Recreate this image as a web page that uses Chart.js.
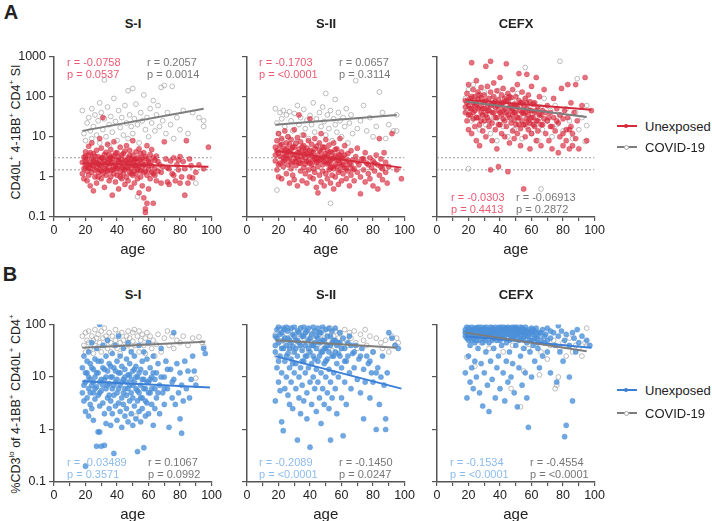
<!DOCTYPE html>
<html>
<head>
<meta charset="utf-8">
<script src="https://cdn.jsdelivr.net/npm/chart.js@4.4.0/dist/chart.umd.min.js"></script>
<style>
  body { margin: 0; width: 712px; height: 521px; background: #fff; position: relative; overflow: hidden;
         font-family: "Liberation Sans", Arial, sans-serif; color: #222; }
  .box { position: absolute; }
  .t { position: absolute; white-space: nowrap; transform: translateY(-50%); font-size: 11px; }
  .c { position: absolute; white-space: nowrap; transform: translate(-50%, -50%); }
  .v { position: absolute; white-space: nowrap; transform: translate(-50%, -50%) rotate(-90deg); font-size: 12.5px; }
  .v sup { font-size: 8px; }
  .leg { position: absolute; height: 2px; width: 20px; }
  .dot { position: absolute; width: 4px; height: 4px; border-radius: 50%; }
</style>
</head>
<body>

<div class="c" style="left:11px;top:12px;font-size:20px;font-weight:bold">A</div>
<div class="c" style="left:10px;top:274px;font-size:20px;font-weight:bold">B</div>

<div class="v" style="left:15px;top:132px">CD40L<sup>+</sup> 4-1BB<sup>+</sup> CD4<sup>+</sup> SI</div>
<div class="v" style="left:15px;top:404px">%CD3<sup>lo</sup> of 4-1BB<sup>+</sup> CD40L<sup>+</sup> CD4<sup>+</sup></div>

<script>
// ---- data ----
const xTicks = [0, 10, 20, 30, 40, 50, 60, 70, 80, 90, 100];
const aYTicks = [0.1, 1, 10, 100, 1000];
const bYTicks = [0.1, 1, 10, 100];
const aThresholds = [3, 1.5];
const panelTitles = ["S-I", "S-II", "CEFX"];
const seriesNames = ["Unexposed", "COVID-19"];

// A: S-I
const a1Unexposed = [[18,2.3],[18,1.2],[19,3.1],[19,0.9],[20,1.8],[20,2.6],[20,4.2],[21,1.4],[21,0.8],[21,2.0],[22,3.5],[22,1.1],[22,5.8],[23,2.2],[23,1.6],[23,0.6],[24,2.9],[24,1.3],[24,7.0],[25,1.9],[25,3.8],[25,0.45],
  [26,2.4],[26,1.0],[27,4.6],[27,1.7],[27,0.7],[28,2.1],[28,3.2],[28,1.3],[29,9.0],[29,1.5],[29,2.7],[30,0.9],[30,5.2],[30,1.9],[31,3.0],[31,1.2],[31,30],[32,2.5],[32,0.55],[32,1.6],[33,4.1],[33,2.0],[33,1.1],[34,6.5],[34,1.4],[34,2.8],[35,0.8],[35,3.6],[35,1.8],
  [36,2.2],[36,1.0],[36,4.8],[37,1.5],[37,2.9],[37,0.35],[38,3.3],[38,1.2],[38,7.5],[39,2.0],[39,0.75],[39,1.6],[40,4.0],[40,2.6],[40,1.1],[41,1.8],[41,3.1],[41,0.5],[42,2.3],[42,5.5],[42,1.3],[43,0.9],[43,2.7],[43,1.7],[44,3.8],[44,1.2],[44,2.1],[45,0.65],[45,4.4],[45,1.5],
  [46,2.5],[46,1.0],[46,6.0],[47,1.7],[47,3.0],[47,0.8],[48,2.2],[48,1.3],[48,4.6],[49,0.55],[49,2.8],[49,1.6],[50,3.5],[50,1.1],[50,2.0],[50,8.0],[51,1.4],[51,2.6],[51,0.7],[52,4.2],[52,1.9],[52,1.2],[53,3.0],[53,0.9],[53,2.3],[54,5.0],[54,1.5],[54,0.4],[55,2.7],[55,1.0],[55,3.8],
  [56,1.8],[56,0.6],[56,2.4],[57,4.0],[57,1.3],[57,0.3],[58,2.0],[58,0.16],[58,0.13],[58,3.2],[59,1.1],[59,6.0],[59,0.22],[60,2.5],[60,1.5],[60,0.5],[61,3.6],[61,0.9],[62,1.9],[62,4.8],[63,1.2],[63,0.22],[64,2.6],[64,1.6],[65,0.8],[65,3.3],
  [66,1.4],[67,2.0],[68,0.7],[68,1.3],[70,7.5],[71,2.8],[72,0.75],[72,1.7],[73,0.65],[74,2.5],[75,1.2],[76,3.0],[77,0.8],[78,2.0],[79,1.5],[80,3.2],[80,0.7],[81,1.0],[82,2.4],[83,0.35],[83,1.6],[84,8.0],[85,0.7],[86,2.8],[86,1.0],[87,1.9],[88,0.95],[90,1.3],[92,2.0],[95,1.6],[98,5.5],
  [19,1.6],[20,3.3],[21,2.7],[22,1.7],[23,4.0],[24,2.0],[25,2.6],[26,1.5],[26,3.3],[27,2.3],[28,1.0],[29,2.0],[30,3.0],[30,1.4],[31,2.2],[32,3.6],[33,1.5],[34,2.2],[35,2.7],[36,1.4],[36,3.1],[37,2.3],[38,1.8],[39,3.9],[40,1.6],[41,2.5],[42,1.0],[43,3.5],[44,1.6],[45,2.6],
  [46,1.7],[47,2.2],[48,3.4],[49,1.2],[50,2.6],[51,1.9],[52,2.8],[53,1.6],[54,2.0],[55,1.4],[56,3.0],[57,2.0],[58,1.4],[59,2.8],[60,1.9],[61,2.3],[62,1.3],[63,3.0],[64,1.1],[66,2.4],[69,1.8],[73,1.6],[76,1.1],[79,2.6]];
const a1Covid = [[18,45],[19,12],[20,8],[21,22],[22,30],[23,14],[24,50],[24,9],[25,18],[26,35],[27,11],[28,25],[29,70],[29,7],[30,40],[31,15],[32,260],[32,28],[33,10],[34,55],[35,20],[35,6],[36,32],[37,13],[38,90],[39,24],[40,8],[41,45],[42,17],[43,30],[44,11],[45,60],[46,22],[47,140],[47,9],[48,35],[49,18],[50,160],[50,12],[51,28],[52,65],[53,20],[53,0.32],[54,7],[55,40],[56,25],[57,110],[58,15],[59,30],[60,10],[61,50],[62,22],[63,80],[64,14],[65,35],[66,60],[67,18],[68,170],[69,25],[70,190],[71,12],[72,40],[74,20],[75,180],[76,9],[78,30],[80,15],[82,45],[85,12],[88,40],[90,0.7],[92,30],[95,18],[95,25]];
const a1FitUnexposed = [[18,2.2],[98,1.8]];
const a1FitCovid = [[18,14],[95,50]];
const a1Stats = ["r = -0.0758", "p = 0.0537", "r = 0.2057", "p = 0.0014"];

// A: S-II
const a2Unexposed = [[18,5.5],[18,2.5],[19,8.0],[19,1.5],[20,3.8],[20,12],[20,1.0],[21,6.0],[21,2.2],[22,4.5],[22,0.9],[22,9.0],[23,3.0],[23,1.8],[24,14],[24,5.0],[24,2.6],[25,7.0],[25,1.2],[25,3.5],[26,4.2],[26,10],[26,2.0],[27,0.7],[27,6.5],[27,3.0],[28,1.6],[28,4.8],[28,8.5],[29,2.4],[29,5.5],[29,1.1],[30,3.6],[30,15],[30,0.85],
  [31,2.8],[31,6.8],[31,1.9],[32,4.0],[32,0.6],[32,9.5],[33,2.2],[33,35],[33,5.0],[34,1.4],[34,3.2],[34,7.5],[35,2.6],[35,0.8],[35,4.4],[36,1.7],[36,6.0],[36,11],[37,3.0],[37,1.2],[37,2.1],[38,5.2],[38,0.7],[38,3.8],[39,1.5],[39,8.0],[39,2.5],[40,28],[40,4.6],[40,1.0],
  [41,3.3],[41,2.0],[41,6.5],[42,0.9],[42,4.0],[42,1.6],[43,2.8],[43,9.0],[43,1.3],[44,5.8],[44,2.3],[44,0.55],[45,0.4],[45,3.5],[45,1.8],[46,7.0],[46,2.6],[46,1.1],[47,4.2],[47,0.75],[47,12],[48,2.0],[48,3.1],[48,1.4],[49,5.5],[49,0.6],[49,2.4],[50,3.8],[50,1.2],[50,8.5],
  [51,2.1],[51,0.9],[51,4.6],[52,1.5],[52,3.0],[52,6.2],[53,2.5],[53,0.7],[53,1.7],[54,4.0],[54,1.1],[54,2.8],[55,7.0],[55,1.6],[55,0.5],[56,3.3],[56,2.0],[56,1.0],[57,5.0],[57,2.6],[58,1.3],[58,0.65],[58,3.6],[59,2.2],[59,9.0],[59,1.5],[60,4.2],[60,0.8],[60,2.0],
  [61,1.2],[61,3.0],[62,6.0],[62,1.7],[63,2.4],[63,0.9],[64,3.8],[64,1.4],[65,2.0],[65,0.6],[66,4.5],[66,1.1],[67,2.6],[68,1.6],[68,0.8],[69,3.2],[70,1.3],[70,5.2],[71,2.0],[72,0.38],[72,1.0],[73,2.8],[74,1.5],[75,4.0],[75,0.75],[76,2.2],[77,1.2],[78,3.0],[78,0.9],[79,1.7],[80,2.5],[80,0.6],
  [81,1.4],[82,3.5],[83,0.5],[83,2.0],[84,9.0],[84,1.1],[85,2.8],[86,1.6],[86,0.85],[87,4.0],[88,1.3],[88,2.3],[89,0.7],[90,1.8],[92,12],[95,1.5],[98,0.9],
  [18,3.5],[19,4.5],[20,2.0],[21,3.2],[22,6.5],[23,2.4],[24,3.6],[25,5.0],[26,2.8],[27,4.2],[28,2.2],[29,3.6],[30,5.5],[31,2.4],[32,3.0],[33,4.0],[34,2.2],[35,5.6],[36,3.6],[37,4.5],[38,2.4],[39,3.5],[40,2.2],[41,4.2],[42,2.6],[43,5.0],[44,3.0],[45,2.4],
  [46,4.6],[47,2.8],[48,5.5],[49,3.2],[50,2.4],[51,3.4],[52,2.2],[53,4.2],[54,1.8],[55,3.0],[56,4.8],[57,1.8],[58,2.6],[59,3.4],[60,2.8],[61,2.0],[62,3.5],[63,1.6],[64,2.6],[66,2.0],[67,1.5],[70,2.4],[74,2.8],[77,2.0],[81,2.2],[85,1.8]];
const a2Covid = [[18,50],[19,22],[19,0.47],[20,12],[21,40],[22,28],[22,8],[23,45],[24,18],[25,35],[26,10],[27,42],[28,25],[29,14],[30,38],[31,7],[32,60],[33,20],[34,30],[35,11],[36,48],[37,16],[38,26],[39,9],[40,34],[41,20],[42,70],[43,13],[44,28],[45,6],[46,40],[47,18],[48,55],[49,24],[50,120],[50,11],[51,35],[52,16],[53,45],[53,0.22],[54,8],[55,28],[56,85],[56,20],[57,13],[58,40],[59,25],[60,10],[61,30],[62,18],[63,50],[64,7],[65,22],[66,35],[67,12],[69,250],[70,16],[72,25],[74,60],[76,14],[78,30],[80,10],[82,18],[84,130],[86,40],[88,9],[90,20],[93,14],[95,14],[95,35]];
const a2FitUnexposed = [[18,4.5],[98,1.7]];
const a2FitCovid = [[18,20],[95,35]];
const a2Stats = ["r = -0.1703", "p = <0.0001", "r = 0.0657", "p = 0.3114"];

// A: CEFX
const a3Unexposed = [[18,80],[18,40],[19,120],[19,25],[20,60],[20,15],[20,200],[21,90],[21,35],[22,700],[22,50],[22,12],[23,150],[23,70],[23,28],[24,100],[24,18],[24,45],[25,65],[25,250],[25,8],[26,85],[26,30],[26,130],[27,55],[27,20],[27,6],[28,95],[28,40],[28,170],[29,70],[29,14],[29,35],[30,110],[30,50],[30,25],
  [31,570],[31,80],[31,10],[32,60],[32,30],[32,180],[33,90],[33,18],[33,45],[34,760],[34,1.5],[34,130],[35,65],[35,22],[35,8],[36,100],[36,40],[36,220],[37,55],[37,15],[37,75],[38,140],[38,30],[38,5],[39,1.8],[39,85],[39,45],[40,60],[40,20],[40,300],
  [41,110],[41,35],[41,12],[42,70],[42,28],[42,160],[43,50],[43,10],[43,90],[44,660],[44,40],[44,18],[45,1.35],[45,75],[45,120],[46,30],[46,55],[46,7],[47,95],[47,22],[47,45],[48,150],[48,35],[48,14],[49,65],[49,26],[49,9],[50,100],[50,40],[50,20],
  [51,55],[51,200],[51,12],[52,375],[52,30],[52,80],[53,45],[53,16],[53,6],[54,70],[54,25],[54,130],[55,0.5],[55,38],[55,60],[56,20],[56,90],[56,10],[57,360],[57,50],[57,28],[58,35],[58,15],[58,110],[59,75],[59,22],[59,5],[60,45],[60,180],[60,12],
  [61,30],[61,65],[62,18],[62,40],[63,300],[63,25],[63,8],[64,55],[64,14],[65,35],[65,100],[66,20],[66,6],[67,45],[68,28],[68,150],[69,12],[70,60],[70,25],[71,8],[72,40],[72,18],[73,5],[74,90],[74,30],[75,14],[76,50],[77,22],[77,4],[78,35],[78,10],[79,160],[80,28],[80,6],
  [81,45],[82,15],[82,8],[83,200],[83,30],[84,5],[85,18],[85,70],[86,12],[86,6],[87,40],[88,200],[88,9],[89,25],[90,5],[92,60],[94,300],[95,8],[98,45],
  [18,55],[19,70],[20,35],[21,50],[22,100],[23,40],[24,60],[25,30],[26,50],[27,110],[28,25],[29,50],[30,75],[31,35],[32,45],[33,25],[34,60],[35,40],[36,70],[37,30],[38,60],[39,20],[40,40],[41,70],[42,45],[43,25],[44,80],[45,35],
  [46,100],[47,60],[48,50],[49,40],[50,60],[51,30],[52,20],[53,70],[54,40],[55,20],[56,40],[57,70],[58,25],[59,45],[60,30],[61,20],[62,70],[63,45],[64,25],[66,35],[67,20],[69,40],[71,30],[73,18],[76,25],[80,12],[84,15]];
const a3Covid = [[18,90],[19,45],[20,1.6],[20,150],[21,60],[22,25],[23,200],[24,80],[25,30],[26,110],[27,15],[28,60],[29,35],[30,130],[31,20],[32,70],[33,45],[34,12],[35,90],[36,30],[37,55],[38,8],[39,140],[40,25],[41,65],[42,18],[43,40],[44,100],[45,10],[46,50],[47,28],[48,75],[49,15],[50,45],[51,120],[52,22],[53,60],[54,9],[55,35],[56,530],[56,80],[57,18],[58,50],[59,28],[60,12],[61,70],[62,20],[63,40],[64,8],[65,30],[66,0.5],[66,55],[67,15],[68,90],[70,25],[72,45],[73,10],[75,60],[76,20],[78,760],[78,35],[80,14],[82,50],[84,25],[86,9],[88,40],[89,280],[90,15],[92,30],[94,7.6],[95,19],[95,60]];
const a3FitUnexposed = [[18,84],[98,47]];
const a3FitCovid = [[18,76],[95,31]];
const a3Stats = ["r = -0.0303", "p = 0.4413", "r = -0.06913", "p = 0.2872"];

// B: S-I
const b1Unexposed = [[18,15],[18,5],[19,3.5],[19,25],[20,8],[20,2.2],[20,0.2],[21,12],[21,4],[22,30],[22,6],[22,1.8],[23,18],[23,9],[23,3],[24,45],[24,7],[24,2.5],[25,14],[25,5],[25,1.5],[26,22],[26,10],[26,3.8],[27,0.48],[27,6.5],[27,35],[28,0.9],[28,12],[28,4.5],[29,100],[29,0.9],[29,8],[29,2.8],[30,0.48],[30,20],[30,5.5],
  [31,15],[31,3.2],[31,40],[32,0.5],[32,9],[32,2],[33,25],[33,6],[33,1.3],[34,13],[34,4],[34,50],[35,7.5],[35,2.5],[35,18],[36,10],[36,3.5],[36,1.2],[37,28],[37,6],[37,2],[38,0.35],[38,15],[38,4.5],[39,8],[39,40],[39,2.8],[40,20],[40,5],[40,1.5],
  [41,12],[41,3.2],[41,60],[42,7],[42,2.2],[42,25],[43,16],[43,4],[43,1.1],[44,9],[44,35],[44,3],[45,6],[45,1.8],[45,14],[46,22],[46,4.5],[46,2.5],[47,11],[47,1.4],[47,45],[48,7],[48,3.5],[48,18],[49,5],[49,2],[49,30],[50,13],[50,4],[50,1.2],
  [51,25],[51,8],[51,2.8],[52,6],[52,16],[52,1.6],[53,0.38],[53,10],[53,3.5],[54,40],[54,5],[54,2.2],[55,14],[55,7],[55,1.4],[56,20],[56,4],[56,2.5],[57,0.45],[57,9],[57,30],[58,6],[58,1.8],[58,12],[59,3.2],[59,22],[60,8],[60,2],[60,45],
  [61,5],[61,15],[62,3],[62,10],[63,1.2],[63,25],[64,6],[64,2.5],[65,12],[65,4],[66,18],[67,7],[67,2],[68,35],[69,5],[70,10],[70,3],[71,20],[72,6],[73,1.1],[74,14],[75,4],[76,70],[76,9],[77,3],[78,18],[79,5],[80,1.6],[80,12],
  [81,0.85],[81,7],[82,3.5],[83,20],[84,6],[85,13],[86,4],[87,9],[88,25],[89,13],[90,7],[95,35],[96,28],
  [19,7],[20,12],[21,20],[22,10],[23,5],[24,15],[25,8],[26,6],[27,12],[28,20],[29,5],[30,9],[31,7],[32,14],[33,10],[34,7],[35,4.5],[36,16],[37,10],[38,7],[39,13],[40,9],[41,6],[42,12],[43,8],[44,5],[45,10],
  [46,8],[47,6],[48,11],[49,9],[50,7],[51,14],[52,10],[53,5.5],[54,12],[55,4],[56,9],[57,6],[58,3.5],[59,8],[60,5],[61,9],[62,6],[63,12],[64,9],[66,5],[68,10],[70,6],[72,14],[75,8]];
const b1Covid = [[18,60],[19,40],[20,70],[20,30],[21,50],[22,45],[22,75],[23,35],[24,60],[25,28],[25,50],[26,80],[26,40],[27,55],[28,35],[28,65],[29,45],[30,75],[30,30],[31,55],[32,40],[32,85],[33,60],[34,35],[34,50],[35,70],[36,45],[36,30],[37,60],[38,40],[39,80],[39,50],[40,35],[41,65],[42,45],[42,28],[43,70],[44,50],[45,38],[46,60],[47,75],[47,42],[48,55],[49,35],[50,70],[50,48],[51,80],[52,40],[52,1.8],[53,60],[54,75],[54,30],[55,50],[56,65],[57,40],[58,55],[58,28],[59,70],[60,45],[61,60],[62,35],[63,50],[64,25],[65,42],[66,65],[68,30],[70,55],[72,75],[73,40],[75,60],[76,35],[78,50],[80,45],[82,60],[85,40],[88,55],[90,9.5],[92,58],[94,45],[95,38]];
const b1FitUnexposed = [[18,8.3],[99,6.3]];
const b1FitCovid = [[18,36],[96,47]];
const b1Stats = ["r = -0.03489", "p = 0.3571", "r = 0.1067", "p = 0.0992"];

// B: S-II
const b2Unexposed = [[18,60],[18,30],[18,3.5],[19,80],[19,15],[20,45],[20,8],[20,90],[21,25],[21,5.5],[22,70],[22,12],[22,1.4],[23,35],[23,0.95],[23,85],[24,20],[24,6],[24,55],[25,90],[25,10],[25,40],[26,28],[26,4.5],[26,75],[27,15],[27,50],[27,3],[28,85],[28,22],[28,8],[29,38],[29,65],[29,2.5],[30,12],[30,30],[30,90],
  [31,50],[31,6],[31,18],[32,0.63],[32,75],[32,25],[33,10],[33,45],[33,4],[34,85],[34,15],[34,2],[35,32],[35,60],[35,7],[36,20],[36,90],[36,3.5],[37,40],[37,12],[37,70],[38,5],[38,25],[38,1.6],[39,85],[39,15],[39,50],[40,0.46],[40,8],[40,30],
  [41,65],[41,18],[41,3],[42,90],[42,10],[42,40],[43,22],[43,6],[43,75],[44,2.2],[44,35],[44,14],[45,55],[45,85],[45,8],[46,25],[46,4],[46,45],[47,12],[47,70],[47,1.3],[48,30],[48,90],[48,6],[49,18],[49,50],[49,3],[50,80],[50,10],[50,35],
  [51,22],[51,5],[51,60],[52,85],[52,14],[52,2.5],[53,0.63],[53,40],[53,8],[54,25],[54,75],[54,4],[55,12],[55,50],[56,30],[56,6],[56,85],[57,18],[57,2],[58,45],[58,10],[59,70],[59,25],[60,4],[60,15],
  [61,0.76],[61,55],[62,8],[62,35],[63,20],[63,3],[64,45],[65,12],[65,60],[66,6],[67,28],[68,15],[69,40],[70,9],[71,22],[72,5],[73,35],[74,1.6],[74,14],[75,8],[76,25],[77,18],[78,4],[79,12],[80,30],[80,8],
  [82,1.0],[83,15],[84,3],[85,10],[86,25],[87,7],[88,1.6],[88,1.0],[89,12],[90,70],[92,55],[94,40],[96,35],
  [18,40],[19,55],[20,20],[21,65],[22,35],[23,50],[24,80],[25,25],[26,55],[27,35],[28,45],[29,18],[30,60],[31,35],[32,50],[33,70],[34,40],[35,20],[36,60],[37,25],[38,75],[39,35],[40,55],[41,40],[42,25],
  [43,45],[44,60],[45,20],[46,70],[47,30],[48,50],[49,35],[50,20],[51,40],[52,30],[53,60],[54,45],[55,25],[56,50],[57,40],[58,28],[59,45],[60,35],[62,20],[64,25],[66,40],[68,30],[72,25],[78,20],[82,12]];
const b2Covid = [[18,65],[19,25],[20,50],[21,80],[22,40],[23,70],[24,55],[25,35],[26,85],[27,45],[28,60],[29,30],[30,75],[31,50],[32,40],[33,65],[34,85],[35,35],[36,55],[37,70],[38,45],[39,30],[40,80],[41,60],[42,40],[43,50],[44,75],[45,35],[46,65],[47,45],[48,80],[49,55],[50,38],[51,70],[52,48],[53,85],[54,32],[55,60],[56,75],[57,42],[58,55],[59,68],[60,35],[62,80],[63,50],[64,40],[65,70],[66,55],[68,75],[69,45],[70,35],[72,65],[74,50],[75,80],[76,40],[78,60],[80,30],[82,55],[85,45],[86,35],[88,50],[90,30],[92,60],[94,40],[95,55],[96,45]];
const b2FitUnexposed = [[18,25],[98,6]];
const b2FitCovid = [[18,50],[95,36]];
const b2Stats = ["r = -0.2089", "p = <0.0001", "r = -0.1450", "p = 0.0247"];

// B: CEFX
const b3Unexposed = [[18,80],[18,60],[18,12],[19,90],[19,70],[19,4],[20,50],[20,85],[20,25],[21,75],[21,40],[21,8],[22,90],[22,65],[22,15],[23,55],[23,80],[23,6],[24,70],[24,45],[24,20],[25,85],[25,60],[25,10],[26,75],[26,35],[26,90],[27,50],[27,80],[27,5],[28,65],[28,90],[28,18],[29,75],[29,2.8],[29,45],[30,85],[30,55],[30,12],
  [31,70],[31,90],[31,30],[32,60],[32,80],[32,7],[33,2.2],[33,75],[33,45],[34,90],[34,60],[34,20],[35,70],[35,85],[35,9],[36,55],[36,80],[36,35],[37,90],[37,65],[37,4],[38,75],[38,50],[38,15],[39,85],[39,60],[39,25],[40,70],[40,90],[40,6],
  [41,55],[41,80],[41,40],[42,75],[42,90],[42,12],[43,60],[43,85],[43,3.5],[44,70],[44,45],[44,20],[45,80],[45,90],[45,8],[46,65],[46,50],[46,30],[47,85],[47,70],[47,10],[48,90],[48,55],[48,18],[49,75],[49,60],[49,5],[50,85],[50,40],[50,90],
  [51,2.7],[51,65],[51,75],[52,80],[52,50],[52,15],[53,90],[53,60],[53,25],[54,70],[54,85],[54,7],[55,55],[55,80],[55,35],[56,90],[56,65],[56,12],[57,75],[57,45],[57,4],[58,1.1],[58,80],[58,60],[59,70],[59,30],[60,85],[60,50],[60,10],
  [61,65],[61,40],[62,75],[62,20],[63,55],[63,85],[64,35],[64,60],[65,70],[65,15],[66,50],[67,80],[67,25],[68,45],[69,65],[70,30],[70,85],[72,55],[72,12],[74,70],[75,40],[76,8],[77,95],[77,60],[78,30],[79,75],[80,20],
  [81,0.73],[81,50],[82,1.2],[82,65],[84,40],[84,10],[86,3.5],[86,70],[87,55],[88,30],[89,80],[90,45],[92,60],[95,50],[97,40],
  [18,70],[19,55],[20,75],[21,60],[22,50],[23,70],[24,85],[25,50],[26,60],[27,70],[28,80],[29,60],[30,70],[31,50],[32,70],[33,60],[34,75],[35,50],[36,70],[37,80],[38,60],[39,70],[40,50],[41,65],[42,60],[43,75],
  [44,85],[45,65],[46,80],[47,55],[48,70],[49,85],[50,65],[51,55],[52,70],[53,75],[54,55],[55,70],[56,75],[57,60],[58,70],[59,50],[60,70],[61,80],[62,55],[63,70],[64,45],[66,70],[68,60],[70,50],[72,75]];
const b3Covid = [[18,70],[19,24],[20,55],[22,80],[24,16],[25,60],[28,45],[30,75],[33,35],[35,65],[38,50],[40,80],[42,30],[45,60],[47,6],[48,40],[50,70],[52,95],[53,2.7],[55,13],[56,50],[58,35],[60,65],[62,45],[65,11],[66,30],[68,55],[70,22],[72,40],[74,50],[75,6],[76,7],[77,10],[78,35],[80,45],[82,25],[84,55],[86,30],[88,40],[90,35],[92,25],[94,45],[95,85],[95,40]];
const b3FitUnexposed = [[18,60],[98,36]];
const b3FitCovid = [[18,70],[95,31]];
const b3Stats = ["r = -0.1534", "p = <0.0001", "r = -0.4554", "p = <0.0001"];

// ---- styling ----
const RED = "rgba(214,34,54,0.64)";
const RED_LINE = "#d42a3c";
const RED_TEXT = "#ea5a72";
const BLUE = "rgba(74,144,216,0.78)";
const BLUE_LINE = "#3c7fd6";
const BLUE_TEXT = "#8dbbea";
const GRAY_PT = "#ababab";
const GRAY_LINE = "#7d7d7d";
const GRAY_TEXT = "#767676";
const AXIS = "#555";

Chart.defaults.font.family = '"Liberation Sans", Arial, sans-serif';
Chart.defaults.color = "#222";

const axisLefts = [54, 247, 437];

const panels = [
  { col: 0, top: 56, h: 161, yMin: 0.1, yMax: 1000, yTicks: aYTicks, unexp: a1Unexposed, covid: a1Covid, fitU: a1FitUnexposed, fitC: a1FitCovid, stats: a1Stats, statsY: 62, fill: RED, line: RED_LINE, text: RED_TEXT, thr: aThresholds },
  { col: 1, top: 56, h: 161, yMin: 0.1, yMax: 1000, yTicks: aYTicks, unexp: a2Unexposed, covid: a2Covid, fitU: a2FitUnexposed, fitC: a2FitCovid, stats: a2Stats, statsY: 62, fill: RED, line: RED_LINE, text: RED_TEXT, thr: aThresholds },
  { col: 2, top: 56, h: 161, yMin: 0.1, yMax: 1000, yTicks: aYTicks, unexp: a3Unexposed, covid: a3Covid, fitU: a3FitUnexposed, fitC: a3FitCovid, stats: a3Stats, statsY: 197, fill: RED, line: RED_LINE, text: RED_TEXT, thr: aThresholds },
  { col: 0, top: 324, h: 158, yMin: 0.1, yMax: 100, yTicks: bYTicks, unexp: b1Unexposed, covid: b1Covid, fitU: b1FitUnexposed, fitC: b1FitCovid, stats: b1Stats, statsY: 462, fill: BLUE, line: BLUE_LINE, text: BLUE_TEXT, thr: [] },
  { col: 1, top: 324, h: 158, yMin: 0.1, yMax: 100, yTicks: bYTicks, unexp: b2Unexposed, covid: b2Covid, fitU: b2FitUnexposed, fitC: b2FitCovid, stats: b2Stats, statsY: 462, fill: BLUE, line: BLUE_LINE, text: BLUE_TEXT, thr: [] },
  { col: 2, top: 324, h: 158, yMin: 0.1, yMax: 100, yTicks: bYTicks, unexp: b3Unexposed, covid: b3Covid, fitU: b3FitUnexposed, fitC: b3FitCovid, stats: b3Stats, statsY: 462, fill: BLUE, line: BLUE_LINE, text: BLUE_TEXT, thr: [] }
];
const statsX = [[67, 147], [259, 339], [451, 516], [67, 148], [259, 339], [450, 530]];

const toXY = arr => arr.map(p => ({ x: p[0], y: p[1] }));

function addText(cls, html, x, y, style) {
  const d = document.createElement("div");
  d.className = cls;
  d.innerHTML = html;
  d.style.left = x + "px";
  d.style.top = y + "px";
  Object.assign(d.style, style || {});
  document.body.appendChild(d);
}

function makePanel(p, i) {
  const left = axisLefts[p.col];
  const cv = document.createElement("canvas");
  cv.width = 220;
  cv.height = p.h + 55;
  cv.className = "box";
  cv.style.left = (left - 50) + "px";
  cv.style.top = (p.top - 10) + "px";
  document.body.appendChild(cv);

  const datasets = [
    { data: toXY(p.fitC), showLine: true, borderColor: GRAY_LINE, borderWidth: 2, pointRadius: 0 },
    { data: toXY(p.fitU), showLine: true, borderColor: p.line, borderWidth: 2, pointRadius: 0 },
    { data: toXY(p.unexp), pointRadius: 2.6, backgroundColor: p.fill, borderColor: p.fill, borderWidth: 0.5 },
    { data: toXY(p.covid), pointRadius: 2.4, backgroundColor: "rgba(255,255,255,0)", borderColor: GRAY_PT, borderWidth: 0.8 }
  ];
  p.thr.forEach(v => {
    datasets.push({ data: [{ x: 0, y: v }, { x: 100, y: v }], showLine: true, borderColor: "#9a9a9a", borderWidth: 1, borderDash: [2, 2], pointRadius: 0 });
  });

  new Chart(cv, {
    type: "scatter",
    data: { datasets: datasets },
    options: {
      responsive: false,
      animation: false,
      events: [],
      layout: { padding: { top: 10, right: 12, left: 0, bottom: 0 } },
      plugins: { legend: { display: false }, tooltip: { enabled: false } },
      scales: {
        x: {
          type: "linear", min: 0, max: 100,
          afterBuildTicks: s => { s.ticks = xTicks.map(v => ({ value: v })); },
          afterFit: s => { s.height = 45; },
          ticks: { autoSkip: false, maxRotation: 0, padding: 2, color: "#222", font: { size: 12.5 },
                   callback: v => (v % 20 === 0 ? String(v) : "") },
          grid: { drawOnChartArea: false, tickLength: 4, color: AXIS, lineWidth: 1.2 },
          border: { color: AXIS, width: 1.5 },
          title: { display: true, text: "age", color: "#222", font: { size: 15 }, padding: { top: 0, bottom: 3 } }
        },
        y: {
          type: "logarithmic", min: p.yMin, max: p.yMax,
          afterBuildTicks: s => { s.ticks = p.yTicks.map(v => ({ value: v })); },
          afterFit: s => { s.width = 50; },
          ticks: { autoSkip: false, padding: 3, color: "#222", font: { size: 12.5 },
                   callback: v => (p.col === 0 ? String(v) : "") },
          grid: { drawOnChartArea: false, tickLength: 5, color: AXIS, lineWidth: 1.2 },
          border: { color: AXIS, width: 1.5 }
        }
      }
    }
  });

  // panel title and r / p annotations
  const titleY = p.top < 200 ? 23 : 294;
  addText("c", panelTitles[p.col], left + 79, titleY, { fontSize: "13px", fontWeight: "bold" });
  const sx = statsX[i];
  addText("t", p.stats[0], sx[0], p.statsY, { color: p.text });
  addText("t", p.stats[1], sx[0], p.statsY + 12, { color: p.text });
  addText("t", p.stats[2], sx[1], p.statsY, { color: GRAY_TEXT });
  addText("t", p.stats[3], sx[1], p.statsY + 12, { color: GRAY_TEXT });
}

panels.forEach(makePanel);

// legends
function addLegend(y1, y2, color) {
  const rows = [[y1, color, true], [y2, GRAY_LINE, false]];
  rows.forEach((r, k) => {
    const ln = document.createElement("div");
    ln.className = "leg";
    ln.style.left = "617px";
    ln.style.top = (r[0] - 1) + "px";
    ln.style.background = r[1];
    document.body.appendChild(ln);
    const dt = document.createElement("div");
    dt.className = "dot";
    dt.style.left = "624px";
    dt.style.top = (r[0] - 2.5) + "px";
    if (r[2]) { dt.style.background = r[1]; }
    else { dt.style.background = "#fff"; dt.style.border = "1px solid #aaa"; dt.style.width = "3px"; dt.style.height = "3px"; }
    document.body.appendChild(dt);
    addText("t", seriesNames[k], 645, r[0], { fontSize: "13px", color: "#222" });
  });
}
addLegend(126, 147, RED_LINE);
addLegend(390, 413, BLUE_LINE);
</script>
</body>
</html>
